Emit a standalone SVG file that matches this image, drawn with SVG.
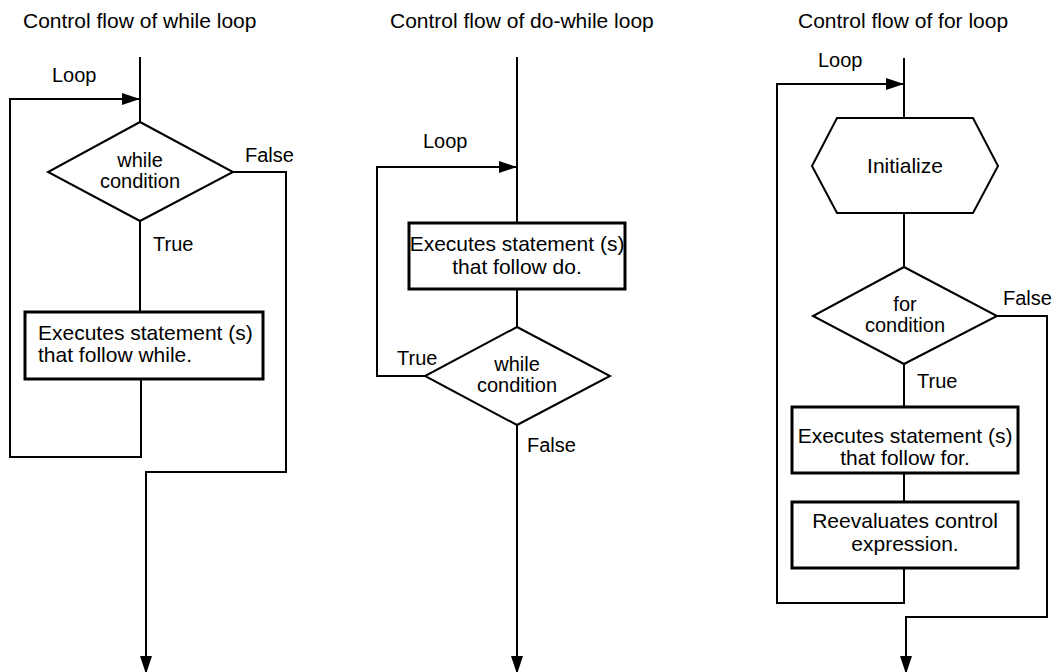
<svg xmlns="http://www.w3.org/2000/svg" width="1058" height="672" viewBox="0 0 1058 672">
<style>
text{font-family:"Liberation Sans",Arial,sans-serif;fill:#000}
.t{font-size:21px}
.l{font-size:20px}
.c{font-size:20px;text-anchor:middle}
.m{text-anchor:middle}
.edge{fill:none;stroke:#000;stroke-width:2}
.box{fill:#fff;stroke:#000;stroke-width:3}
.dec{fill:#fff;stroke:#000;stroke-width:2}
</style>
<defs>
<marker id="ah" markerUnits="userSpaceOnUse" markerWidth="20" markerHeight="12" refX="18" refY="6" orient="auto">
<path d="M0,0 L18,6 L0,12 Z" fill="#000"/>
</marker>
</defs>
<rect width="1058" height="672" fill="#fff"/>

<g id="titles">
<text class="t" x="23" y="28">Control flow of while loop</text>
<text class="t" x="390" y="28">Control flow of do-while loop</text>
<text class="t" x="798" y="28">Control flow of for loop</text>
</g>

<g id="connectors">
<!-- while loop -->
<path class="edge" d="M140,57 L140,122"/>
<path class="edge" d="M140,221 L140,312"/>
<path class="edge" d="M141,379 L141,457 L10,457 L10,99 L140,99" marker-end="url(#ah)"/>
<path class="edge" d="M233,172 L286,172 L286,472 L146,472 L146,674" marker-end="url(#ah)"/>
<!-- do-while loop -->
<path class="edge" d="M517,57 L517,223"/>
<path class="edge" d="M517,289 L517,327"/>
<path class="edge" d="M425,376 L377,376 L377,167 L517,167" marker-end="url(#ah)"/>
<path class="edge" d="M517,425 L517,674" marker-end="url(#ah)"/>
<!-- for loop -->
<path class="edge" d="M904,58 L904,118"/>
<path class="edge" d="M904,213 L904,267"/>
<path class="edge" d="M904,364 L904,407"/>
<path class="edge" d="M904,473 L904,502"/>
<path class="edge" d="M904,568 L904,603 L777,603 L777,84 L904,84" marker-end="url(#ah)"/>
<path class="edge" d="M997,316 L1047,316 L1047,617 L906,617 L906,674" marker-end="url(#ah)"/>
</g>

<g id="edge-labels">
<text class="l" x="52" y="82">Loop</text>
<text class="l" x="245" y="162">False</text>
<text class="l" x="153" y="251">True</text>
<text class="l" x="423" y="148">Loop</text>
<text class="l" x="397" y="365">True</text>
<text class="l" x="527" y="452">False</text>
<text class="l" x="818" y="67">Loop</text>
<text class="l" x="1003" y="305">False</text>
<text class="l" x="917" y="388">True</text>
</g>

<g id="while-condition">
<polygon class="dec" points="140,122 233,172 140,221 48,172"/>
<text class="c" x="140" y="167">while</text>
<text class="c" x="140" y="188">condition</text>
</g>

<g id="while-body">
<rect class="box" x="25" y="312" width="238" height="67"/>
<text class="t" x="38" y="340">Executes statement (s)</text>
<text class="t" x="38" y="362">that follow while.</text>
</g>

<g id="do-body">
<rect class="box" x="409" y="223" width="216" height="66"/>
<text class="t m" x="517" y="251">Executes statement (s)</text>
<text class="t m" x="517" y="274">that follow do.</text>
</g>

<g id="do-while-condition">
<polygon class="dec" points="517,327 610,376 517,425 425,376"/>
<text class="c" x="517" y="371">while</text>
<text class="c" x="517" y="392">condition</text>
</g>

<g id="for-initialize">
<polygon class="dec" points="837,118 973,118 998,166 973,213 837,213 812,166"/>
<text class="t m" x="905" y="173">Initialize</text>
</g>

<g id="for-condition">
<polygon class="dec" points="904,267 997,316 904,364 813,316"/>
<text class="c" x="905" y="311">for</text>
<text class="c" x="905" y="332">condition</text>
</g>

<g id="for-body">
<rect class="box" x="792" y="407" width="226" height="66"/>
<text class="t m" x="905" y="443">Executes statement (s)</text>
<text class="t m" x="905" y="465">that follow for.</text>
</g>

<g id="for-reevaluate">
<rect class="box" x="792" y="502" width="226" height="66"/>
<text class="t m" x="905" y="528">Reevaluates control</text>
<text class="t m" x="905" y="551">expression.</text>
</g>
</svg>
